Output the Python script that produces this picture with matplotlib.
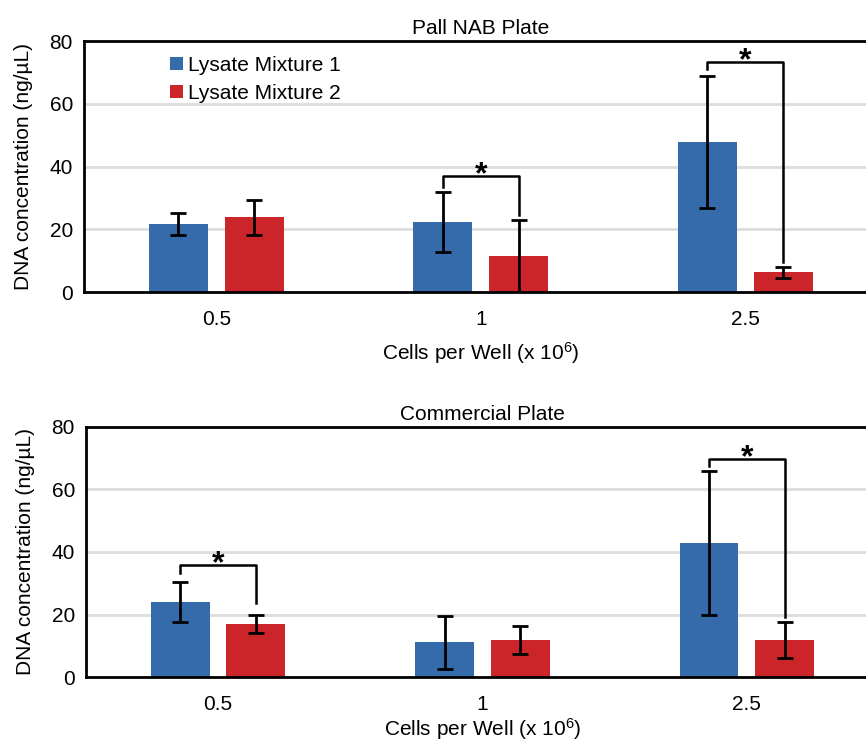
import numpy as np
import matplotlib
matplotlib.use('Agg')
import matplotlib.pyplot as plt

plt.rcParams['font.family'] = ['Liberation Sans', 'DejaVu Sans']
plt.rcParams['mathtext.default'] = 'regular'

cells = ['0.5', '1', '2.5']
series = ['Lysate Mixture 1', 'Lysate Mixture 2']

# Pall NAB plate
pall_mix1 = [21.7, 22.3, 47.9]
pall_mix1_err = [3.6, 9.6, 21.0]
pall_mix2 = [23.8, 11.4, 6.3]
pall_mix2_err = [5.6, 11.6, 1.8]
# brackets: (category, left end, top, right end)
pall_sig = [(1, 33.6, 37.0, 24.5), (2, 71.0, 73.4, 9.7)]

# Commercial plate
comm_mix1 = [24.1, 11.2, 42.8]
comm_mix1_err = [6.4, 8.5, 22.9]
comm_mix2 = [16.9, 11.9, 11.9]
comm_mix2_err = [2.9, 4.6, 5.8]
comm_sig = [(0, 33.2, 35.8, 23.6), (2, 67.4, 69.6, 19.4)]

blue = '#356aab'
red = '#cc2529'
off = 0.143
w = 0.223

fig = plt.figure(figsize=(8.66, 7.41), dpi=100)
ax1 = fig.add_axes([0.0970, 0.6059, 0.9163, 0.3387])
ax2 = fig.add_axes([0.0993, 0.0860, 0.9157, 0.3382])


def panel(ax, title, m1, e1, m2, e2, sig, legend=False, xpad=6):
    x = np.arange(len(cells))
    ax.bar(x - off, m1, w, color=blue, label=series[0], zorder=2)
    ax.bar(x + off, m2, w, color=red, label=series[1], zorder=2)
    ax.errorbar(x - off, m1, yerr=e1, fmt='none', ecolor='black',
                elinewidth=2, capsize=5.5, capthick=2, zorder=3)
    ax.errorbar(x + off, m2, yerr=e2, fmt='none', ecolor='black',
                elinewidth=2, capsize=5.5, capthick=2, zorder=3)
    for c, yl, yt, yr in sig:
        ax.plot([c - off, c - off, c + off, c + off], [yl, yt, yt, yr],
                color='black', lw=1.8, zorder=3)
        ax.text(c, yt - 4.5, '*', ha='center', va='bottom', fontsize=23,
                fontweight='bold')
    ax.set_xlim(-0.5, 2.5)
    ax.set_ylim(0, 80)
    ax.set_yticks([0, 20, 40, 60, 80])
    ax.set_xticks(x)
    ax.set_xticklabels(cells)
    ax.yaxis.grid(True, color='#dddddd', lw=2, zorder=0)
    ax.set_axisbelow(True)
    ax.tick_params(axis='both', length=0, labelsize=15)
    ax.tick_params(axis='y', pad=8)
    ax.tick_params(axis='x', pad=13)
    for s in ax.spines.values():
        s.set_linewidth(2)
    ax.set_title(title, fontsize=15, pad=5)
    ax.set_xlabel('Cells per Well (x 10$^{6}$)', fontsize=15, labelpad=xpad)
    ax.set_ylabel('DNA concentration (ng/µL)', fontsize=15, labelpad=12)
    if legend:
        ax.legend(loc='upper left', bbox_to_anchor=(0.09, 1.0), frameon=False,
                  fontsize=15, handlelength=0.62, handleheight=0.62,
                  handletextpad=0.25, labelspacing=0.45, borderaxespad=0.3)


panel(ax1, 'Pall NAB Plate', pall_mix1, pall_mix1_err, pall_mix2, pall_mix2_err,
      pall_sig, legend=True, xpad=8)
panel(ax2, 'Commercial Plate', comm_mix1, comm_mix1_err, comm_mix2, comm_mix2_err,
      comm_sig, xpad=1)

fig.savefig('out.png', dpi=100)
